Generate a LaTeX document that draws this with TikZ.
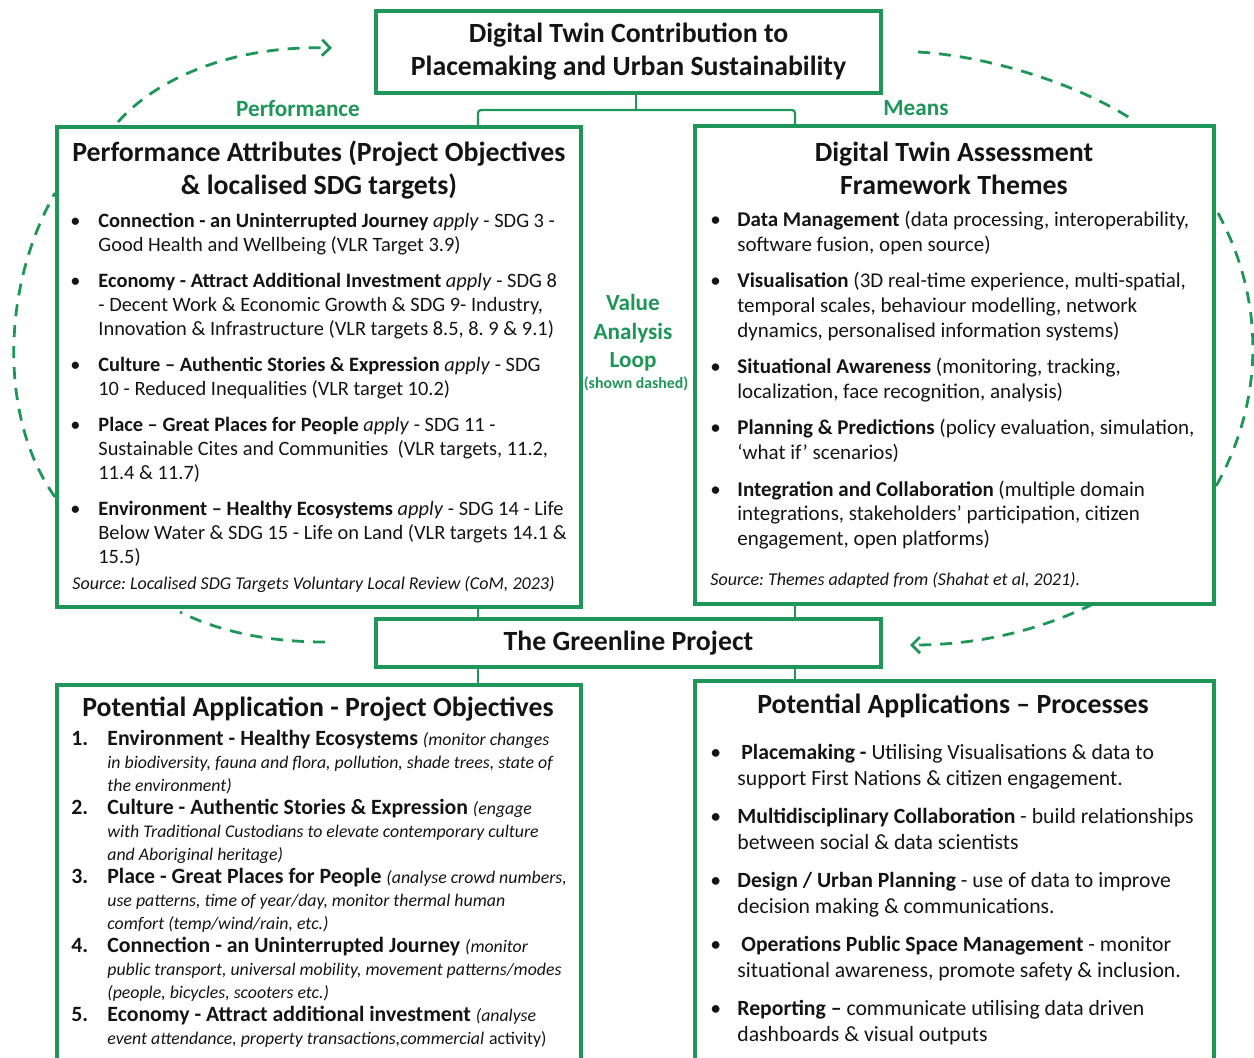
\documentclass[tikz,border=0pt]{standalone}
\usepackage{fontspec}
\setmainfont{Carlito}
\usetikzlibrary{arrows.meta, positioning, calc}
\definecolor{twinGreen}{HTML}{1E9657}
\definecolor{twinText}{HTML}{141414}
\newcommand{\objnote}[1]{{\fontsize{8.9}{11.5}\selectfont\itshape #1}}
\frenchspacing

\begin{document}
\begin{tikzpicture}[
  x=0.5pt, y=-0.5pt,
  font=\fontsize{10.2}{12}\selectfont, text=twinText,
  panel/.style  ={draw=twinGreen, line width=2pt, inner sep=0pt, align=center},
  head/.style   ={font=\fontsize{13.9}{16.5}\selectfont\bfseries, align=center, inner sep=0pt},
  body/.style   ={anchor=north west, inner sep=0pt, align=left},
  source/.style ={anchor=west, inner sep=0pt, font=\fontsize{9.0}{11}\selectfont\itshape},
  tagText/.style={text=twinGreen, font=\fontsize{11.6}{14.25}\selectfont\bfseries,
                  inner sep=0pt, align=center},
  link/.style   ={draw=twinGreen, line width=1.1pt, rounded corners=1.5pt},
  valueLoop/.style={draw=twinGreen, line width=1.4pt, dash pattern=on 6pt off 4.5pt},
  loopTip/.style={valueLoop, -{Straight Barb[length=4pt, width=8pt, line width=1.4pt]}},
]
\useasboundingbox (0,0) rectangle (1254,1057);

% ----- Top: contribution -----
\node[panel, head, minimum width=252.5pt, minimum height=41pt] (TOP) at (628.5,52)
  {Digital Twin Contribution to\\Placemaking and Urban Sustainability};

\node[tagText] (perfTag)  at (298,109) {Performance};
\node[tagText] (meansTag) at (916,108) {Means};

% ----- Performance attributes -----
\node[panel, minimum width=262pt, minimum height=240pt] (PERF) at (319,367) {};
\node[head] (PERFhead) at (319,170)
  {Performance Attributes (Project Objectives\\\& localised SDG targets)};
\node[body] (PERFlist) at (70,210) {%
  \begin{tabular}{@{}p{14pt}@{}l@{}}
    \textbullet & \textbf{Connection - an Uninterrupted Journey} \textit{apply} - SDG 3 -\\
                & Good Health and Wellbeing (VLR Target 3.9)\\[6pt]
    \textbullet & \textbf{Economy - Attract Additional Investment} \textit{apply} - SDG 8\\
                & - Decent Work \& Economic Growth \& SDG 9- Industry,\\
                & Innovation \& Infrastructure (VLR targets 8.5, 8. 9 \& 9.1)\\[6pt]
    \textbullet & \textbf{Culture -- Authentic Stories \& Expression} \textit{apply} - SDG\\
                & 10 - Reduced Inequalities (VLR target 10.2)\\[6pt]
    \textbullet & \textbf{Place -- Great Places for People} \textit{apply} - SDG 11 -\\
                & Sustainable Cites and Communities\ \ (VLR targets, 11.2,\\
                & 11.4 \& 11.7)\\[6pt]
    \textbullet & \textbf{Environment -- Healthy Ecosystems} \textit{apply} - SDG 14 - Life\\
                & Below Water \& SDG 15 - Life on Land (VLR targets 14.1 \&\\
                & 15.5)
  \end{tabular}};
\node[source] (PERFsrc) at (72,584)
  {Source: Localised SDG Targets Voluntary Local Review (CoM, 2023)};

% ----- Assessment framework themes -----
\node[panel, minimum width=259.5pt, minimum height=239pt] (THEME) at (954.5,365) {};
\node[head] (THEMEhead) at (954,168)
  {Digital Twin Assessment\\Framework Themes};
\node[body, font=\fontsize{10.5}{12.3}\selectfont] (THEMElist) at (710,209) {%
  \begin{tabular}{@{}p{13.5pt}@{}l@{}}
    \textbullet & \textbf{Data Management} (data processing, interoperability,\\
                & software fusion, open source)\\[6pt]
    \textbullet & \textbf{Visualisation} (3D real-time experience, multi-spatial,\\
                & temporal scales, behaviour modelling, network\\
                & dynamics, personalised information systems)\\[6pt]
    \textbullet & \textbf{Situational Awareness} (monitoring, tracking,\\
                & localization, face recognition, analysis)\\[6pt]
    \textbullet & \textbf{Planning \& Predictions} (policy evaluation, simulation,\\
                & `what if' scenarios)\\[6pt]
    \textbullet & \textbf{Integration and Collaboration} (multiple domain\\
                & integrations, stakeholders' participation, citizen\\
                & engagement, open platforms)
  \end{tabular}};
\node[source] (THEMEsrc) at (710,580)
  {Source: Themes adapted from (Shahat et al, 2021).};

\node[tagText] (loopTag) at (633,333) {Value\\Analysis\\Loop};
\node[tagText, font=\fontsize{7.9}{9}\selectfont\bfseries] (loopNote) at (636,384)
  {(shown dashed)};

% ----- The Greenline Project -----
\node[panel, head, minimum width=252.5pt, minimum height=24pt] (LINE) at (628.5,643)
  {The Greenline Project};

% ----- Project objectives -----
\node[panel, minimum width=262pt, minimum height=190pt] (OBJ) at (319,875) {};
\node[head] (OBJhead) at (318,709) {Potential Application - Project Objectives};
\node[body, font=\fontsize{10.9}{11.5}\selectfont] (OBJlist) at (71,729) {%
  \begin{tabular}{@{}p{18pt}@{}l@{}}
    \textbf{1.} & \textbf{Environment - Healthy Ecosystems} \objnote{(monitor changes}\\
                & \objnote{in biodiversity, fauna and flora, pollution, shade trees, state of}\\
                & \objnote{the environment)}\\
    \textbf{2.} & \textbf{Culture - Authentic Stories \& Expression} \objnote{(engage}\\
                & \objnote{with Traditional Custodians to elevate contemporary culture}\\
                & \objnote{and Aboriginal heritage)}\\
    \textbf{3.} & \textbf{Place - Great Places for People} \objnote{(analyse crowd numbers,}\\
                & \objnote{use patterns, time of year/day, monitor thermal human}\\
                & \objnote{comfort (temp/wind/rain, etc.)}\\
    \textbf{4.} & \textbf{Connection - an Uninterrupted Journey} \objnote{(monitor}\\
                & \objnote{public transport, universal mobility, movement patterns/modes}\\
                & \objnote{(people, bicycles, scooters etc.)}\\
    \textbf{5.} & \textbf{Economy - Attract additional investment} \objnote{(analyse}\\
                & \objnote{event attendance, property transactions,commercial}
                  {\fontsize{8.9}{11.5}\selectfont activity)}
  \end{tabular}};

% ----- Processes -----
\node[panel, minimum width=259.5pt, minimum height=192pt] (PROC) at (954.5,873) {};
\node[head] (PROChead) at (953,706) {Potential Applications -- Processes};
\node[body, font=\fontsize{10.85}{13}\selectfont] (PROClist) at (710,741) {%
  \begin{tabular}{@{}p{13.5pt}@{}l@{}}
    \textbullet & \hspace{2pt}\textbf{Placemaking -} Utilising Visualisations \& data to\\
                & support First Nations \& citizen engagement.\\[6pt]
    \textbullet & \textbf{Multidisciplinary Collaboration} - build relationships\\
                & between social \& data scientists\\[6pt]
    \textbullet & \textbf{Design / Urban Planning} - use of data to improve\\
                & decision making \& communications.\\[6pt]
    \textbullet & \hspace{2pt}\textbf{Operations Public Space Management} - monitor\\
                & situational awareness, promote safety \& inclusion.\\[6pt]
    \textbullet & \textbf{Reporting --} communicate utilising data driven\\
                & dashboards \& visual outputs
  \end{tabular}};

% ----- Connectors -----
\coordinate (hub)  at (636,110);
\coordinate (colL) at (478,0);
\coordinate (colR) at (795,0);
\draw[link] (TOP.south -| hub) -- (hub);
\draw[link] (PERF.north -| colL) |- (hub) -| (THEME.north -| colR);
\draw[link] (PERF.south -| colL)  -- (LINE.north -| colL);
\draw[link] (THEME.south -| colR) -- (LINE.north -| colR);
\draw[link] (LINE.south -| colL)  -- (OBJ.north -| colL);
\draw[link] (LINE.south -| colR)  -- (PROC.north -| colR);

% ----- Value analysis loop (dashed) -----
\coordinate (loopA) at (118,122);
\coordinate (loopB) at (332,48);
\coordinate (loopC) at (918,52);
\coordinate (loopD) at (1133,120);
\coordinate (loopE) at (1218,213);
\coordinate (loopF) at (1215,488);
\coordinate (loopG) at (1093,604);
\coordinate (loopH) at (910,645);
\coordinate (loopI) at (325,642);
\coordinate (loopJ) at (180,612);
\coordinate (loopK) at (55,497);
\coordinate (loopL) at (55,193);
\draw[loopTip]   (loopA) .. controls (155,80) and (230,45) .. (loopB);
\draw[valueLoop] (loopC) .. controls (990,56) and (1080,85) .. (loopD);
\draw[valueLoop] (loopE) .. controls (1265,300) and (1265,400) .. (loopF);
\draw[loopTip]   (loopG) .. controls (1050,625) and (990,645) .. (loopH);
\draw[valueLoop] (loopI) .. controls (270,642) and (220,632) .. (loopJ);
\draw[valueLoop] (loopK) .. controls (0,420) and (0,290) .. (loopL);

\end{tikzpicture}
\end{document}
